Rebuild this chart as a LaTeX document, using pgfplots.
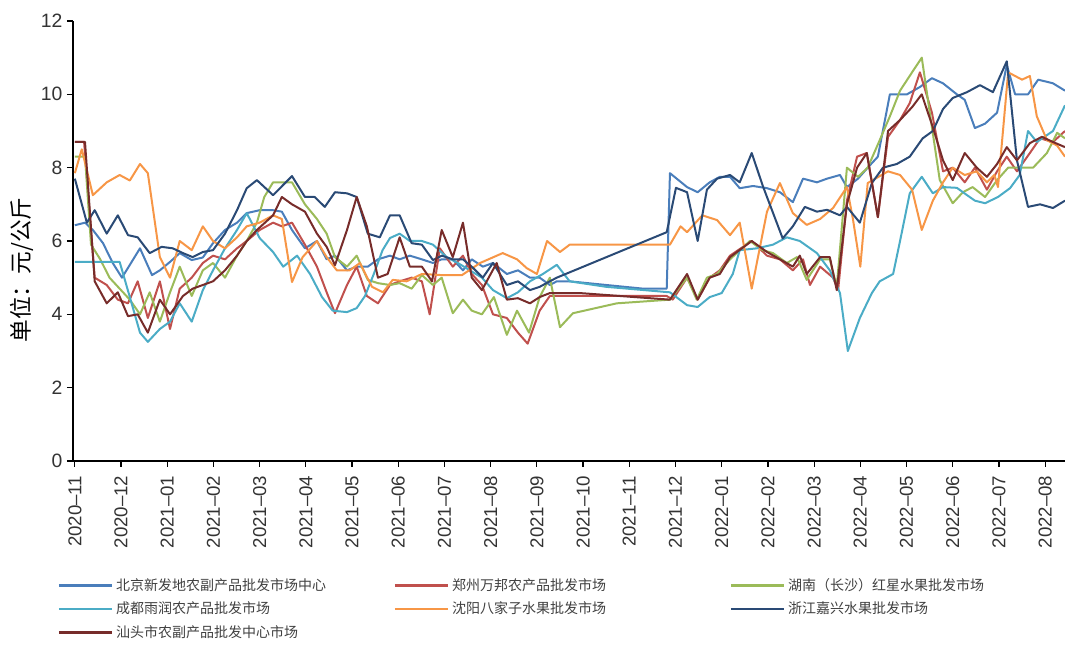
\documentclass[border=0pt]{standalone}
\usepackage{pgfplots}
\pgfplotsset{compat=1.18}
\usepackage{fontspec}
\setmainfont{Liberation Sans}
\newfontfamily\cjk{Noto Sans CJK SC}
\definecolor{cBJ}{HTML}{4A7EBB}
\definecolor{cZZ}{HTML}{C0504D}
\definecolor{cHN}{HTML}{9BBB59}
\definecolor{cCD}{HTML}{4BACC6}
\definecolor{cSY}{HTML}{F79646}
\definecolor{cZJ}{HTML}{2A4A75}
\definecolor{cST}{HTML}{772C2A}
\begin{document}
\begin{tikzpicture}
\begin{axis}[
  name=ax,
  scale only axis,
  width=744pt, height=330pt,
  xmin=-0.04, xmax=21.43, ymin=0, ymax=12,
  axis lines*=left,
  axis line style={black, line width=0.9pt},
  tick style={black, line width=0.9pt},
  tick align=outside, major tick length=4.5pt,
  ytick={0,2,...,12},
  xtick={0,1,...,21},
  xticklabels={2020–11,2020–12,2021–01,2021–02,2021–03,2021–04,2021–05,2021–06,2021–07,2021–08,2021–09,2021–10,2021–11,2021–12,2022–01,2022–02,2022–03,2022–04,2022–05,2022–06,2022–07,2022–08},
  x tick label style={rotate=90, anchor=east, font=\fontsize{14}{16}\selectfont, text=black!80, xshift=-3pt},
  y tick label style={font=\fontsize{14.5}{16}\selectfont, text=black!80},
  /pgf/number format/assume math mode=true,
  ylabel={\cjk 单位：元/公斤},
  every axis y label/.style={at={(axis description cs:-0.0514,0.434)}, rotate=90, anchor=center, font=\fontsize{17}{19}\selectfont, text=black},
  legend columns=3,
  legend cell align=left,
  legend style={draw=none, fill=none, at={(axis description cs:-0.02,-0.255)}, anchor=north west,
    font=\fontsize{10.5}{12}\selectfont, text=black!75, row sep=3pt,
    /tikz/every even column/.append style={column sep=0pt}},
  legend image code/.code={\draw[#1, line width=2pt] (0pt,0pt) -- (40pt,0pt);},
  every axis plot/.append style={line width=1.5pt, line join=round},
]
% 北京新发地
\addplot[color=cBJ] coordinates {(0,6.43) (0.22,6.5) (0.39,6.3) (0.61,5.94) (0.82,5.4) (1.02,5.0) (1.41,5.8) (1.67,5.07) (1.84,5.2) (2.06,5.43) (2.27,5.67) (2.53,5.48) (2.77,5.55) (2.99,5.94) (3.25,6.3) (3.51,6.5) (3.72,6.76) (4.0,6.84) (4.29,6.84) (4.48,6.8) (4.70,6.3) (4.98,5.8) (5.24,6.0) (5.45,5.5) (5.63,5.6) (5.89,5.2) (6.10,5.3) (6.34,5.3) (6.56,5.5) (6.82,5.6) (7.03,5.5) (7.25,5.6) (7.51,5.5) (7.75,5.4) (7.94,5.5) (8.18,5.5) (8.40,5.2) (8.59,5.5) (8.83,5.3) (9.05,5.4) (9.35,5.1) (9.59,5.2) (9.85,5.0) (10.06,5.0) (10.28,4.8) (10.43,4.9) (10.71,4.9) (11.5,4.8) (12.3,4.7) (12.81,4.7) (12.88,7.85) (13.25,7.47) (13.48,7.33) (13.74,7.6) (13.96,7.75) (14.18,7.75) (14.39,7.44) (14.68,7.5) (14.98,7.44) (15.26,7.33) (15.54,7.06) (15.76,7.7) (16.06,7.6) (16.28,7.7) (16.56,7.8) (16.71,7.47) (16.95,7.7) (17.16,8.0) (17.38,8.3) (17.64,10.0) (18.01,10.0) (18.29,10.2) (18.55,10.44) (18.79,10.3) (19.09,10.0) (19.26,9.85) (19.48,9.08) (19.70,9.2) (19.96,9.5) (20.17,10.8) (20.35,10.0) (20.63,10.0) (20.85,10.4) (21.17,10.3) (21.43,10.1)};
\addlegendentry{\makebox[206pt][l]{\cjk 北京新发地农副产品批发市场中心}}
% 郑州万邦
\addplot[color=cZZ] coordinates {(0,8.7) (0.2,8.7) (0.43,5.0) (0.69,4.8) (0.93,4.4) (1.15,4.3) (1.36,4.9) (1.58,3.9) (1.84,4.9) (2.06,3.6) (2.27,4.7) (2.53,5.0) (2.77,5.4) (2.99,5.6) (3.25,5.5) (3.51,5.8) (3.72,6.0) (4.0,6.3) (4.29,6.5) (4.48,6.4) (4.70,6.5) (4.98,5.9) (5.24,5.3) (5.45,4.6) (5.63,4.03) (5.89,4.8) (6.10,5.3) (6.32,4.5) (6.56,4.3) (6.82,4.8) (7.03,4.9) (7.29,5.0) (7.51,4.9) (7.68,4.0) (7.9,5.8) (8.18,5.3) (8.4,5.6) (8.59,5.1) (8.81,4.8) (9.05,4.0) (9.35,3.9) (9.59,3.5) (9.8,3.2) (10.06,4.1) (10.28,4.5) (10.5,4.5) (12.81,4.5) (12.94,4.4) (13.25,5.0) (13.48,4.4) (13.74,5.0) (13.96,5.2) (14.18,5.6) (14.65,6.0) (14.98,5.6) (15.26,5.5) (15.54,5.2) (15.76,5.5) (15.91,4.8) (16.13,5.3) (16.41,5.0) (16.52,4.66) (16.71,7.1) (16.93,8.3) (17.14,8.4) (17.38,6.65) (17.60,8.84) (17.86,9.3) (18.07,9.76) (18.29,10.6) (18.55,9.5) (18.79,7.9) (19.0,8.0) (19.26,7.6) (19.48,8.0) (19.74,7.4) (19.96,7.9) (20.17,8.3) (20.39,7.9) (20.67,8.4) (20.89,8.8) (21.17,8.7) (21.43,9.0)};
\addlegendentry{\makebox[206pt][l]{\cjk 郑州万邦农产品批发市场}}
% 湖南（长沙）
\addplot[color=cHN] coordinates {(0,8.3) (0.22,8.3) (0.35,5.9) (0.55,5.5) (0.75,5.0) (0.97,4.7) (1.19,4.4) (1.41,4.0) (1.62,4.6) (1.84,3.8) (2.06,4.6) (2.27,5.3) (2.53,4.5) (2.77,5.2) (2.99,5.4) (3.25,5.0) (3.51,5.6) (3.72,6.0) (3.94,6.5) (4.1,7.2) (4.29,7.6) (4.48,7.6) (4.70,7.6) (4.98,7.0) (5.24,6.6) (5.45,6.2) (5.63,5.56) (5.89,5.3) (6.10,5.6) (6.34,4.94) (6.56,4.85) (6.82,4.8) (7.03,4.85) (7.29,4.7) (7.51,5.07) (7.75,4.8) (7.94,5.0) (8.18,4.03) (8.40,4.4) (8.59,4.1) (8.81,4.0) (9.07,4.47) (9.35,3.44) (9.57,4.1) (9.83,3.5) (10.06,4.47) (10.28,5.0) (10.50,3.65) (10.78,4.03) (11.73,4.3) (12.88,4.4) (13.25,5.0) (13.46,4.4) (13.68,5.0) (13.90,5.1) (14.18,5.5) (14.61,6.0) (14.89,5.75) (15.11,5.67) (15.41,5.4) (15.63,5.56) (15.84,4.94) (16.13,5.5) (16.34,5.5) (16.49,4.75) (16.71,8.0) (16.95,7.75) (17.16,8.0) (17.42,8.75) (17.64,9.4) (17.86,10.1) (18.12,10.6) (18.33,11.0) (18.55,9.1) (18.72,7.66) (19.0,7.03) (19.22,7.33) (19.43,7.47) (19.70,7.2) (19.96,7.66) (20.2,8.0) (20.45,8.0) (20.74,8.0) (21.04,8.4) (21.26,8.95) (21.43,8.8)};
\addlegendentry{\makebox[206pt][l]{\cjk 湖南（长沙）红星水果批发市场}}
% 成都雨润
\addplot[color=cCD] coordinates {(0,5.43) (0.5,5.43) (0.97,5.43) (1.19,4.47) (1.41,3.5) (1.58,3.25) (1.84,3.6) (2.06,3.8) (2.27,4.3) (2.53,3.8) (2.77,4.66) (2.99,5.2) (3.25,5.8) (3.51,6.3) (3.72,6.76) (4.0,6.08) (4.29,5.7) (4.51,5.3) (4.81,5.6) (5.09,5.1) (5.35,4.47) (5.58,4.1) (5.89,4.06) (6.10,4.17) (6.28,4.5) (6.47,5.1) (6.66,5.75) (6.82,6.08) (7.03,6.2) (7.25,6.0) (7.51,6.0) (7.75,5.9) (8.05,5.56) (8.29,5.4) (8.55,5.2) (8.81,5.0) (9.05,4.66) (9.35,4.44) (9.59,4.6) (9.85,4.9) (10.13,5.1) (10.43,5.35) (10.71,4.9) (11.5,4.75) (12.88,4.6) (13.25,4.25) (13.48,4.2) (13.74,4.47) (14.0,4.58) (14.24,5.1) (14.39,5.75) (14.76,5.8) (15.11,5.9) (15.41,6.1) (15.69,6.0) (16.06,5.67) (16.34,5.2) (16.56,4.58) (16.73,3.0) (16.99,3.9) (17.25,4.58) (17.42,4.9) (17.71,5.1) (17.86,6.0) (18.07,7.3) (18.33,7.75) (18.57,7.3) (18.79,7.47) (19.09,7.45) (19.31,7.25) (19.48,7.1) (19.70,7.03) (19.98,7.2) (20.24,7.44) (20.45,7.8) (20.63,9.0) (20.82,8.7) (21.17,9.0) (21.43,9.7)};
\addlegendentry{\makebox[206pt][l]{\cjk 成都雨润农产品批发市场}}
% 沈阳八家子
\addplot[color=cSY] coordinates {(0,7.85) (0.15,8.5) (0.39,7.25) (0.69,7.6) (0.97,7.8) (1.19,7.65) (1.41,8.1) (1.58,7.85) (1.84,5.56) (2.06,5.0) (2.27,6.0) (2.53,5.75) (2.77,6.4) (2.99,6.0) (3.25,5.8) (3.51,6.1) (3.72,6.4) (4.0,6.5) (4.29,6.7) (4.48,6.6) (4.70,4.88) (4.93,5.56) (5.24,6.0) (5.45,5.56) (5.67,5.2) (5.95,5.2) (6.17,5.4) (6.43,4.75) (6.67,4.6) (6.88,4.94) (7.18,4.9) (7.51,5.1) (7.94,5.07) (8.38,5.07) (8.77,5.4) (9.26,5.67) (9.57,5.5) (9.78,5.26) (10.0,5.1) (10.22,6.0) (10.5,5.7) (10.71,5.9) (12.88,5.9) (13.11,6.4) (13.25,6.24) (13.58,6.7) (13.90,6.57) (14.18,6.16) (14.39,6.5) (14.65,4.7) (14.98,6.8) (15.26,7.58) (15.54,6.76) (15.84,6.44) (16.13,6.6) (16.41,6.9) (16.71,7.47) (16.84,6.6) (17.0,5.3) (17.16,7.58) (17.6,7.9) (17.86,7.8) (18.12,7.4) (18.33,6.3) (18.57,7.1) (18.79,7.6) (19.0,8.0) (19.26,7.8) (19.52,7.9) (19.74,7.6) (19.9,7.8) (19.98,7.47) (20.2,10.6) (20.5,10.4) (20.67,10.5) (20.82,9.4) (21.04,8.75) (21.26,8.6) (21.43,8.3)};
\addlegendentry{\makebox[206pt][l]{\cjk 沈阳八家子水果批发市场}}
% 浙江嘉兴
\addplot[color=cZJ] coordinates {(0,7.7) (0.26,6.5) (0.43,6.84) (0.69,6.2) (0.93,6.7) (1.15,6.16) (1.36,6.1) (1.62,5.67) (1.88,5.84) (2.12,5.8) (2.34,5.67) (2.55,5.56) (2.77,5.7) (2.99,5.75) (3.25,6.2) (3.51,6.84) (3.72,7.44) (3.94,7.66) (4.29,7.25) (4.70,7.77) (4.98,7.2) (5.19,7.2) (5.41,6.93) (5.63,7.33) (5.89,7.3) (6.10,7.2) (6.34,6.2) (6.60,6.1) (6.82,6.7) (7.03,6.7) (7.29,5.94) (7.51,5.9) (7.75,5.48) (7.94,5.6) (8.18,5.5) (8.40,5.5) (8.59,5.3) (8.83,5.0) (9.05,5.4) (9.35,4.8) (9.59,4.9) (9.85,4.66) (10.06,4.75) (10.28,4.9) (10.43,5.0) (12.81,6.24) (13.01,7.45) (13.25,7.33) (13.48,6.0) (13.68,7.4) (13.90,7.7) (14.18,7.8) (14.39,7.6) (14.65,8.4) (14.89,7.5) (15.32,6.07) (15.54,6.4) (15.80,6.93) (16.06,6.8) (16.28,6.85) (16.56,6.7) (16.71,6.93) (16.99,6.5) (17.25,7.58) (17.49,8.0) (17.79,8.1) (18.07,8.3) (18.35,8.8) (18.57,9.0) (18.79,9.6) (19.0,9.9) (19.31,10.06) (19.59,10.25) (19.87,10.06) (20.17,10.9) (20.39,8.2) (20.63,6.93) (20.89,7.0) (21.17,6.9) (21.43,7.1)};
\addlegendentry{\makebox[206pt][l]{\cjk 浙江嘉兴水果批发市场}}
% 汕头
\addplot[color=cST] coordinates {(0,8.7) (0.22,8.7) (0.43,4.9) (0.69,4.3) (0.93,4.6) (1.15,3.95) (1.36,4.0) (1.58,3.5) (1.84,4.4) (2.06,4.0) (2.34,4.5) (2.55,4.7) (2.77,4.8) (2.99,4.9) (3.25,5.2) (3.51,5.6) (3.72,6.0) (3.94,6.3) (4.29,6.7) (4.48,7.2) (4.70,7.0) (4.98,6.8) (5.24,6.2) (5.45,5.84) (5.63,5.34) (5.89,6.3) (6.10,7.2) (6.32,6.4) (6.56,5.0) (6.77,5.1) (7.03,6.1) (7.25,5.3) (7.51,5.3) (7.73,4.9) (7.94,6.3) (8.18,5.56) (8.40,6.5) (8.59,5.0) (8.81,4.66) (9.13,5.4) (9.35,4.4) (9.59,4.44) (9.85,4.3) (10.06,4.47) (10.28,4.58) (10.93,4.58) (12.88,4.4) (13.25,5.1) (13.48,4.4) (13.74,5.0) (13.96,5.1) (14.18,5.56) (14.65,6.0) (14.98,5.7) (15.26,5.5) (15.54,5.3) (15.69,5.6) (15.84,5.1) (16.13,5.56) (16.34,5.56) (16.49,4.66) (16.71,7.0) (16.93,8.0) (17.14,8.4) (17.38,6.65) (17.60,9.0) (17.86,9.3) (18.12,9.65) (18.33,10.0) (18.57,9.1) (18.79,8.2) (19.0,7.66) (19.26,8.4) (19.52,8.0) (19.74,7.75) (19.96,8.1) (20.17,8.56) (20.39,8.2) (20.67,8.67) (20.93,8.84) (21.17,8.7) (21.43,8.56)};
\addlegendentry{\makebox[206pt][l]{\cjk 汕头市农副产品批发中心市场}}
\end{axis}
\pgfresetboundingbox
\path[use as bounding box] ([shift={(-54.75pt,-140.25pt)}]ax.south west) rectangle ++(798.75pt,486pt);
\end{tikzpicture}
\end{document}
